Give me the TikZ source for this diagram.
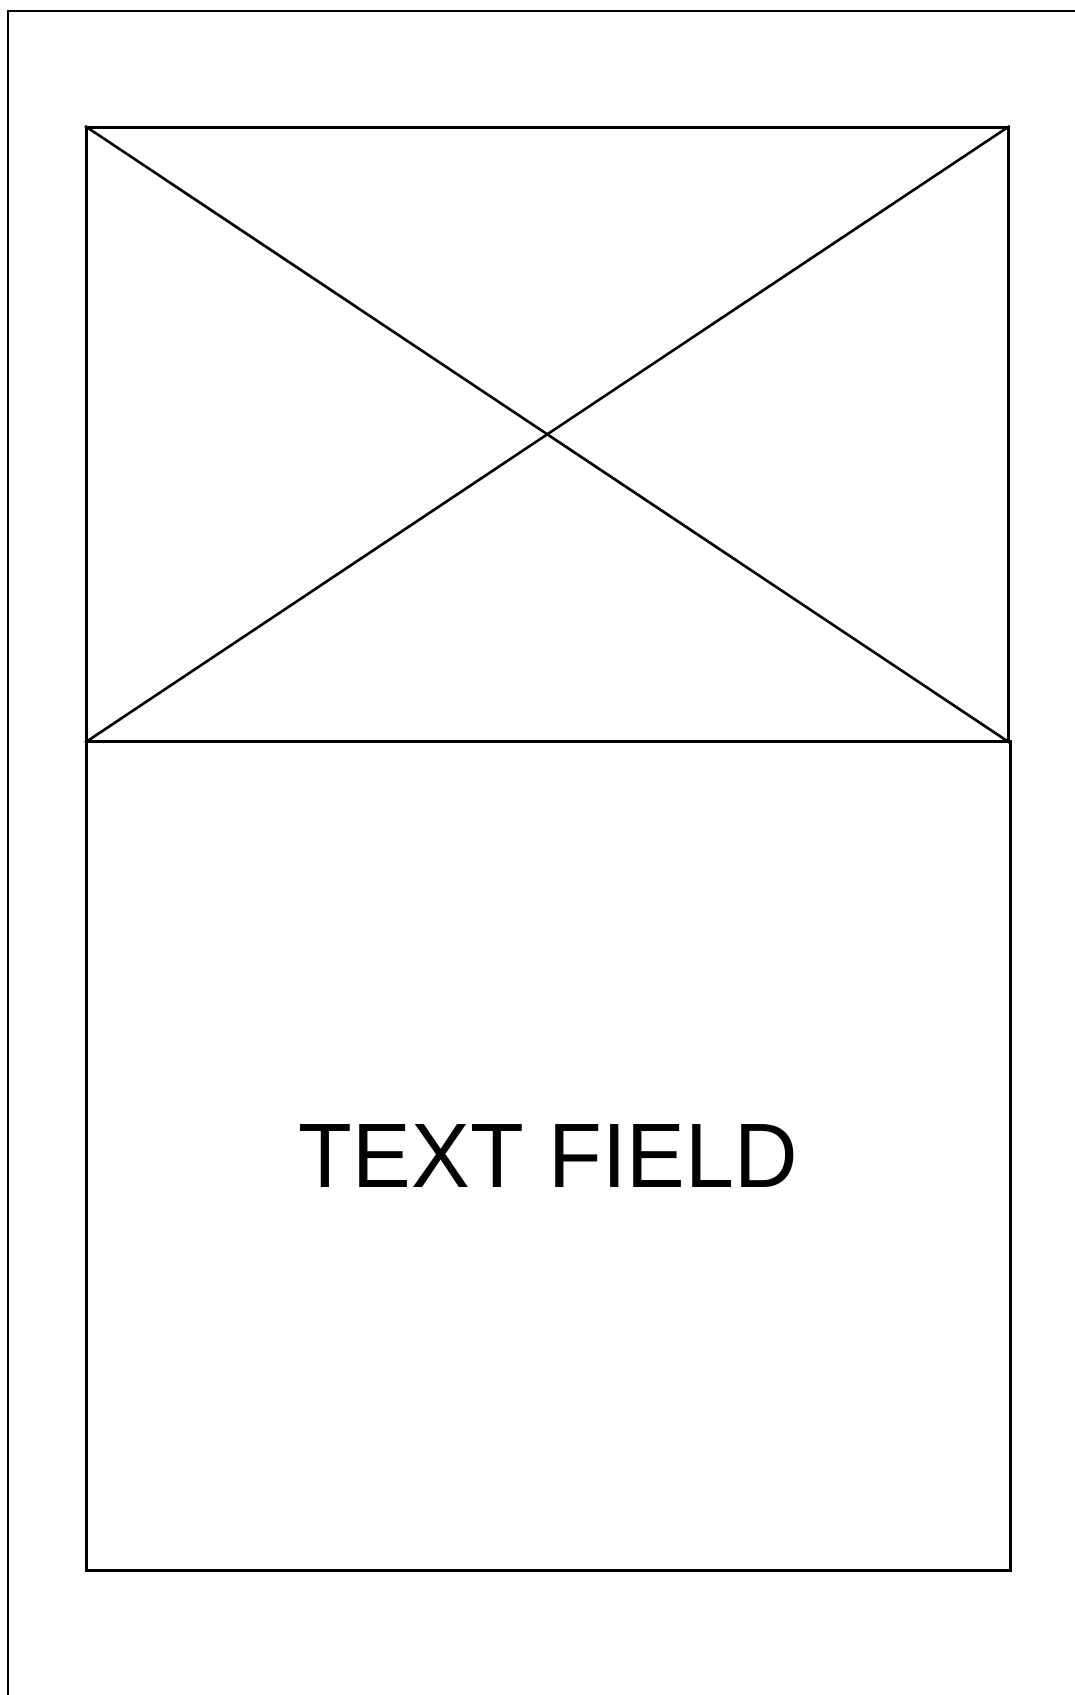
\documentclass[tikz,border=0pt]{standalone}
\usepackage{fontspec}
\setmainfont{Liberation Sans}
\begin{document}
\begin{tikzpicture}[x=1pt,y=-1pt,
  frameline/.style={line width=2.2pt,draw=black},
  boxline/.style={line width=2.6pt,draw=black,line join=miter}]
\useasboundingbox (0,0) rectangle (1074,1695);
% outer frame (only top and left visible)
\coordinate (fbl) at (8,1700);
\coordinate (ftl) at (8,11);
\coordinate (ftr) at (1080,11);
\draw[frameline] (fbl) -- (ftl) -- (ftr);
% image placeholder
\node[boxline,draw,minimum width=922pt,minimum height=614pt,inner sep=0pt,anchor=north west] (img) at (85,126) {};
\draw[boxline] (img.north west) -- (img.south east);
\draw[boxline] (img.south west) -- (img.north east);
% text field
\node[boxline,draw,minimum width=924pt,minimum height=829pt,inner sep=0pt,anchor=north west] (txt) at (85,740) {};
\node[font=\fontsize{88}{100}\selectfont,yscale=1.04] (lbl) at (txt.center) {TEXT FIELD};
\end{tikzpicture}
\end{document}
